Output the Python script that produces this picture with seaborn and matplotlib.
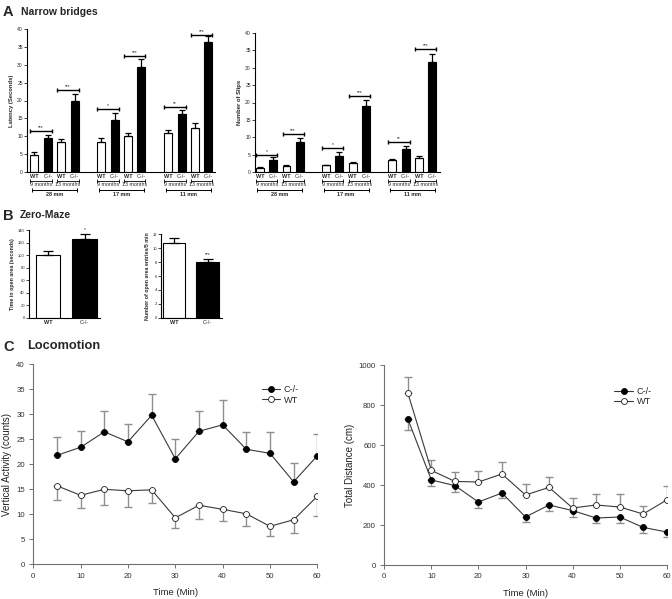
import numpy as np
import pandas as pd
import seaborn as sns
import matplotlib
matplotlib.use("Agg")
import matplotlib.pyplot as plt
from matplotlib.transforms import offset_copy

sns.set_style("ticks")
plt.rcParams["font.family"] = ["Liberation Sans", "DejaVu Sans"]

# ---------------- data ----------------
bridge_widths = ["28 mm", "17 mm", "11 mm"]
ages = ["9 months", "13 months"]
genotypes = ["WT", "C-/-"]

latency = [4.8, 9.5, 8.5, 20.0, 8.5, 14.5, 10.0, 29.5, 11.0, 16.2, 12.3, 36.3]
latency_err = [0.7, 0.9, 0.8, 1.9, 0.9, 2.1, 1.0, 2.1, 0.7, 1.2, 1.5, 1.8]
latency_sig = ["***", "***", "*", "***", "**", "***"]
latency_sig_y = [11.5, 22.8, 17.5, 32.5, 18.3, 38.3]

slips = [1.2, 3.5, 1.7, 8.5, 2.0, 4.7, 2.6, 18.9, 3.5, 6.5, 4.1, 31.6]
slips_err = [0.2, 0.7, 0.2, 1.3, 0.15, 1.0, 0.2, 1.8, 0.2, 0.9, 0.5, 2.3]
slips_sig = ["*", "***", "*", "***", "**", "***"]
slips_sig_y = [5.0, 10.8, 6.8, 21.9, 8.5, 35.5]

maze_groups = ["WT", "C-/-"]
open_time = [100, 126]
open_time_err = [7, 8]
open_time_sig = ["", "*"]
open_entries = [10.8, 8.0]
open_entries_err = [0.6, 0.4]
open_entries_sig = ["", "***"]

time_min = [5, 10, 15, 20, 25, 30, 35, 40, 45, 50, 55, 60]
vert_ko = [21.8, 23.4, 26.5, 24.5, 29.8, 21.1, 26.6, 27.9, 23.0, 22.2, 16.5, 21.7]
vert_ko_err = [3.6, 3.3, 4.1, 3.5, 4.2, 3.9, 4.0, 4.9, 3.5, 4.2, 3.8, 4.3]
vert_wt = [15.7, 13.8, 15.0, 14.7, 14.9, 9.3, 11.8, 11.0, 10.1, 7.6, 8.9, 13.6]
vert_wt_err = [2.9, 2.6, 3.2, 3.3, 2.7, 2.1, 2.8, 2.4, 2.5, 2.0, 2.6, 4.0]

dist_ko = [730, 425, 397, 315, 360, 240, 300, 272, 235, 240, 188, 165]
dist_ko_err = [55, 30, 32, 30, 25, 27, 28, 32, 27, 30, 28, 27]
dist_wt = [860, 473, 418, 415, 455, 350, 388, 285, 300, 290, 255, 325]
dist_wt_err = [80, 52, 47, 53, 60, 55, 52, 48, 55, 65, 40, 70]

PALETTE = {"WT": "white", "C-/-": "black"}

W, H = 672, 599
fig = plt.figure(figsize=(W / 100, H / 100), dpi=100)


def ax_px(l, t, r, b):
    return fig.add_axes([l / W, 1 - b / H, (r - l) / W, (b - t) / H])


def below(ax, dy):
    return offset_copy(ax.get_xaxis_transform(), fig=fig, y=-dy, units="dots")


def style_bar_axes(ax, tick_fs):
    sns.despine(ax=ax)
    for s in ("left", "bottom"):
        ax.spines[s].set_linewidth(0.8)
        ax.spines[s].set_color("black")
    ax.tick_params(axis="y", length=2, width=0.6, labelsize=tick_fs, pad=1)
    ax.set_xticks([])
    ax.set_xlabel("")


def bridge_panel(ax, vals, errs, sigs, sig_y, ylabel):
    pos, gen = [], []
    for g in range(len(bridge_widths)):
        for a in range(len(ages)):
            for k, gt in enumerate(genotypes):
                pos.append(g * 5 + a * 2 + k)
                gen.append(gt)
    df = pd.DataFrame({"pos": pos, "val": vals, "geno": gen})
    sns.barplot(data=df, x="pos", y="val", hue="geno", palette=PALETTE,
                native_scale=True, width=0.6, dodge=False, edgecolor="black",
                linewidth=0.8, errorbar=None, legend=False, saturation=1, ax=ax)
    ax.errorbar(pos, vals, yerr=[np.zeros(len(vals)), errs], fmt="none",
                ecolor="black", elinewidth=0.9, capsize=2.2, capthick=0.9, zorder=3)
    ax.set_ylim(0, 40)
    ax.set_yticks(range(0, 41, 5))
    style_bar_axes(ax, 3.6)
    ax.set_ylabel(ylabel, fontsize=4.2, fontweight="bold", labelpad=2)
    # significance brackets
    for i in range(6):
        p0 = pos[2 * i]
        p1 = pos[2 * i + 1]
        y = sig_y[i]
        ax.plot([p0 - 0.3, p1 + 0.3], [y, y], color="black", lw=1.0,
                marker="|", ms=3, mew=1.0, zorder=4)
        ax.text((p0 + p1) / 2, y, sigs[i], ha="center", va="bottom",
                fontsize=3.5, transform=offset_copy(ax.transData, fig=fig, y=1, units="dots"))
    # labels under axis
    for i, p in enumerate(pos):
        gt = gen[i]
        ax.text(p, 0, gt, transform=below(ax, 4.5), ha="center", va="center",
                fontsize=4, fontweight="bold" if gt == "WT" else "normal", clip_on=False)
    for g in range(len(bridge_widths)):
        for a in range(len(ages)):
            p0 = g * 5 + a * 2
            p1 = p0 + 1
            ax.plot([p0 - 0.3, p1 + 0.3], [0, 0], transform=below(ax, 8.5), color="black",
                    lw=0.6, marker="|", ms=2.5, mew=0.6, clip_on=False)
            ax.text((p0 + p1) / 2, 0, ages[a], transform=below(ax, 13), ha="center",
                    va="center", fontsize=3.8, clip_on=False)
        q0 = g * 5
        q1 = g * 5 + 3
        ax.plot([q0 - 0.2, q1 + 0.2], [0, 0], transform=below(ax, 18), color="black",
                lw=0.7, marker="|", ms=2.5, mew=0.7, clip_on=False)
        ax.text((q0 + q1) / 2, 0, bridge_widths[g], transform=below(ax, 22.5),
                ha="center", va="center", fontsize=4, fontweight="bold", clip_on=False)


# ---- Panel A ----
axA1 = ax_px(27, 29, 215, 172)
bridge_panel(axA1, latency, latency_err, latency_sig, latency_sig_y, "Latency (Seconds)")
axA1.set_xlim(-0.56, 13.5)

axA2 = ax_px(255, 33, 440, 172)
bridge_panel(axA2, slips, slips_err, slips_sig, slips_sig_y, "Number of Slips")
axA2.set_xlim(-0.38, 13.6)

fig.text(3 / W, 1 - 12 / H, "A", fontsize=10.5, fontweight="bold", va="center")
fig.text(21 / W, 1 - 12 / H, "Narrow bridges", fontsize=7.5, fontweight="bold", va="center")


# ---- Panel B ----
def maze_panel(ax, vals, errs, sigs, ymax, ystep, ylabel, xlim):
    df = pd.DataFrame({"pos": [0, 1], "val": vals, "geno": maze_groups})
    sns.barplot(data=df, x="pos", y="val", hue="geno", palette=PALETTE,
                native_scale=True, width=0.67, dodge=False, edgecolor="black",
                linewidth=0.8, errorbar=None, legend=False, saturation=1, ax=ax)
    ax.errorbar([0, 1], vals, yerr=[[0, 0], errs], fmt="none", ecolor="black",
                elinewidth=0.9, capsize=3.5, capthick=0.9, zorder=3)
    for p, v, e, s in zip([0, 1], vals, errs, sigs):
        if s:
            ax.text(p, v + e, s, ha="center", va="bottom", fontsize=3.5,
                    transform=offset_copy(ax.transData, fig=fig, y=2, units="dots"))
    ax.set_ylim(0, ymax)
    ax.set_yticks(np.arange(0, ymax + 0.1, ystep))
    ax.set_xlim(*xlim)
    style_bar_axes(ax, 3.0)
    ax.set_ylabel(ylabel, fontsize=3.8, fontweight="bold", labelpad=2)
    for p, gt in zip([0, 1], maze_groups):
        ax.text(p, 0, gt, transform=below(ax, 5), ha="center", va="center",
                fontsize=4, fontweight="bold" if gt == "WT" else "normal", clip_on=False)


axB1 = ax_px(29, 230, 100, 317.7)
maze_panel(axB1, open_time, open_time_err, open_time_sig, 140, 20,
           "Time in open area (seconds)", (-0.52, 1.42))
axB2 = ax_px(161, 234.3, 222, 317.7)
maze_panel(axB2, open_entries, open_entries_err, open_entries_sig, 12, 2,
           "Number of open area entries/5 min", (-0.385, 1.42))

fig.text(3 / W, 1 - 215.5 / H, "B", fontsize=10.5, fontweight="bold", va="center")
fig.text(20 / W, 1 - 215.5 / H, "Zero-Maze", fontsize=7.5, fontweight="bold", va="center")


# ---- Panel C ----
def loco_panel(ax, ko, ko_err, wt, wt_err, ko_up, ymax, ystep, ylabel, leg_anchor):
    zeros = np.zeros(len(time_min))
    ko_yerr = [zeros, ko_err] if ko_up else [ko_err, zeros]
    wt_yerr = [wt_err, zeros] if ko_up else [zeros, wt_err]
    ax.errorbar(time_min, ko, yerr=ko_yerr, fmt="none", ecolor="#8f8f8f",
                elinewidth=1.0, capsize=2.6, capthick=1.0, zorder=1)
    ax.errorbar(time_min, wt, yerr=wt_yerr, fmt="none", ecolor="#8f8f8f",
                elinewidth=1.0, capsize=2.6, capthick=1.0, zorder=1)
    sns.lineplot(x=time_min, y=ko, ax=ax, color="#3a3a3a", lw=0.8, marker="o",
                 markersize=4.3, markerfacecolor="black", markeredgecolor="black",
                 markeredgewidth=0.6, label="C-/-", zorder=3)
    sns.lineplot(x=time_min, y=wt, ax=ax, color="#3a3a3a", lw=0.8, marker="o",
                 markersize=4.3, markerfacecolor="white", markeredgecolor="#202020",
                 markeredgewidth=0.6, label="WT", zorder=3)
    ax.set_xlim(0, 60)
    ax.set_ylim(0, ymax)
    ax.set_xticks(range(0, 61, 10))
    ax.set_yticks(np.arange(0, ymax + 0.1, ystep))
    sns.despine(ax=ax)
    for s in ("left", "bottom"):
        ax.spines[s].set_color("#707070")
        ax.spines[s].set_linewidth(0.8)
    ax.tick_params(length=3, width=0.7, color="#707070", labelcolor="#333333",
                   labelsize=5.6, pad=3)
    ax.set_xlabel("Time (Min)", fontsize=6.8, color="#222222", labelpad=6)
    ax.set_ylabel(ylabel, fontsize=7.0, color="#222222", labelpad=3)
    ax.legend(loc="upper left", bbox_to_anchor=leg_anchor, frameon=False,
              fontsize=6.6, handlelength=2.0, handletextpad=0.4, labelspacing=0.15,
              borderaxespad=0, borderpad=0)


axC1 = ax_px(33.3, 364.3, 317.3, 564.3)
loco_panel(axC1, vert_ko, vert_ko_err, vert_wt, vert_wt_err, True, 40, 5,
           "Vertical Activity (counts)", (0.805, 0.895))
axC2 = ax_px(384.3, 365, 666.7, 565)
loco_panel(axC2, dist_ko, dist_ko_err, dist_wt, dist_wt_err, False, 1000, 200,
           "Total Distance (cm)", (0.815, 0.89))

fig.text(3 / W, 1 - 347 / H, "C", fontsize=10.5, fontweight="bold", va="center")
fig.text(27 / W, 1 - 346 / H, "Locomotion", fontsize=9.2, fontweight="bold", va="center")

fig.savefig("out.png", dpi=100)
